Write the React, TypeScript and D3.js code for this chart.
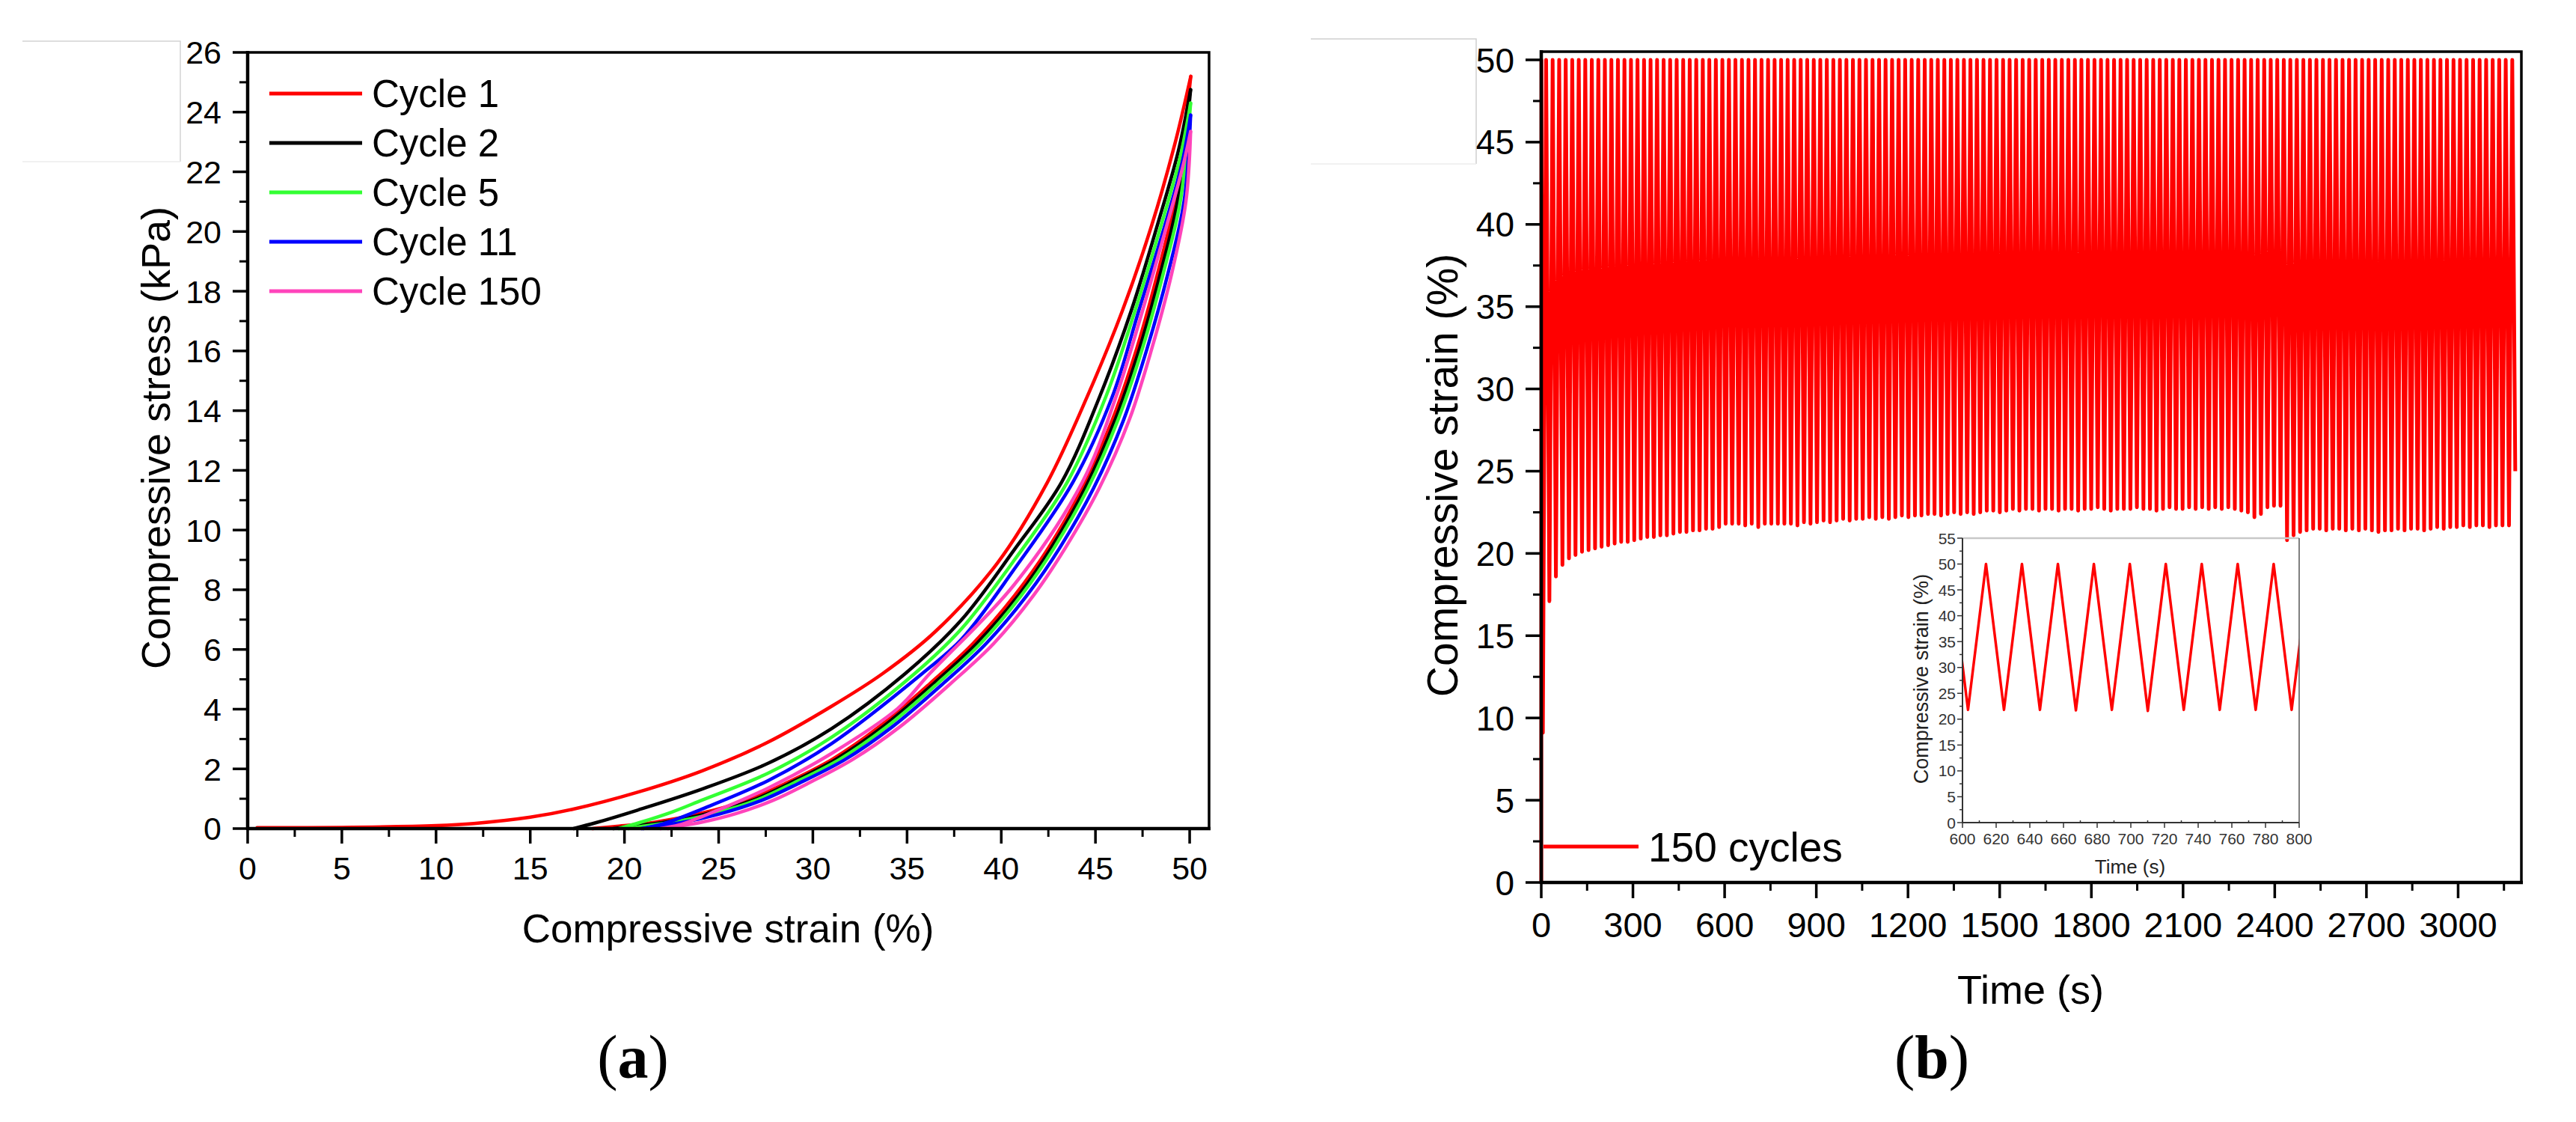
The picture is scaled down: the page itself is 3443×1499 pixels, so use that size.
import React from 'react';
import * as d3 from 'd3';

// ---- panel (a): stress-strain loops ----
type Pt = [number, number]; // [strain %, stress kPa] or [time s, strain %]

const CYCLE_LABELS = ['Cycle 1', 'Cycle 2', 'Cycle 5', 'Cycle 11', 'Cycle 150'];
const CYCLE_COLORS = ['#ff0000', '#000000', '#33ff33', '#0000ff', '#ff44bb'];

// loading branches
const LOAD_C1: Pt[] = [[0.5, 0.03], [5, 0.04], [10, 0.1], [12, 0.17], [15, 0.38], [17.2, 0.64], [20.7, 1.22], [24.1, 1.93], [27.6, 2.89], [31, 4.1], [33.7, 5.19], [36.5, 6.6], [39.8, 8.9], [42.45, 11.6], [44.57, 14.48], [46.43, 17.35], [48.0, 20.24], [49.2, 22.9], [50.06, 25.2]];
const LOAD_C2: Pt[] = [[17.3, 0], [18.5, 0.2], [20.7, 0.62], [24.1, 1.32], [27.6, 2.18], [31, 3.35], [34.9, 5.19], [37.9, 7.0], [40.7, 9.35], [43.2, 11.6], [45.23, 14.48], [46.9, 17.35], [48.3, 20.24], [49.4, 22.7], [50.05, 24.75]];
const LOAD_C5: Pt[] = [[19.7, 0], [20.8, 0.2], [22.5, 0.55], [24.1, 0.95], [27.6, 1.85], [31, 3.06], [35.4, 5.19], [37.9, 6.7], [40.7, 9.0], [43.5, 11.6], [45.56, 14.48], [47.1, 17.35], [48.5, 20.24], [49.5, 22.5], [50.05, 24.3]];
const LOAD_C11: Pt[] = [[20.9, 0], [22, 0.15], [24.1, 0.65], [27.6, 1.6], [31, 2.85], [35.8, 5.19], [37.9, 6.35], [40.7, 8.7], [43.8, 11.6], [45.9, 14.48], [47.3, 17.35], [48.7, 20.24], [49.6, 22.3], [50.05, 23.9]];
const LOAD_C150: Pt[] = [[21.9, 0], [22.9, 0.12], [24.1, 0.4], [27.6, 1.35], [31, 2.52], [34.5, 4.02], [36.2, 5.19], [40.7, 8.18], [44.3, 11.6], [46.1, 14.48], [47.5, 17.35], [48.8, 20.24], [49.65, 22.2], [50.05, 23.35]];

// unloading branches: strain at each stress level, from zero stress up towards the peak
const UNLOAD_STRESS = [0, 0.07, 0.2, 0.5, 0.95, 1.5, 2.31, 3.4, 4.85, 6.2, 7.8, 9.4, 11.4, 13.7, 16.1, 18.6, 21.0];
const UNLOAD_C1 = [18.3, 19.5, 21.5, 24.0, 26.5, 28.5, 31.0, 33.5, 36.2, 38.5, 40.7, 42.5, 44.3, 45.9, 47.2, 48.3, 49.2];
const UNLOAD_C2 = [19.4, 20.2, 22.0, 24.4, 26.8, 28.7, 31.2, 33.7, 36.4, 38.7, 40.9, 42.65, 44.45, 46.05, 47.35, 48.45, 49.35];
const UNLOAD_C5 = [20.2, 20.9, 22.4, 24.7, 27.0, 28.9, 31.4, 33.9, 36.6, 38.9, 41.05, 42.8, 44.6, 46.2, 47.5, 48.6, 49.5];
const UNLOAD_C11 = [21.0, 21.6, 23.0, 25.1, 27.3, 29.2, 31.7, 34.2, 36.9, 39.2, 41.35, 43.1, 44.9, 46.5, 47.75, 48.85, 49.7];
const UNLOAD_C150 = [22.3, 22.8, 24.0, 25.9, 27.9, 29.7, 32.1, 34.6, 37.3, 39.6, 41.7, 43.4, 45.2, 46.8, 48.0, 49.05, 49.8];

const LOADS = [LOAD_C1, LOAD_C2, LOAD_C5, LOAD_C11, LOAD_C150];
const UNLOADS = [UNLOAD_C1, UNLOAD_C2, UNLOAD_C5, UNLOAD_C11, UNLOAD_C150];

const STRAIN_TICKS = [0, 5, 10, 15, 20, 25, 30, 35, 40, 45, 50];
const STRESS_TICKS = [0, 2, 4, 6, 8, 10, 12, 14, 16, 18, 20, 22, 24, 26];

// ---- panel (b): strain vs time over 150 cycles ----
const CYCLE_PERIOD = 21.36; // s
const VALLEY_T0 = 5.2; // s, first unloading minimum
const PEAK_STRAIN = 50;
const END_TIME = 3187;
const END_STRAIN = 25;
// strain at the bottom of each unloading, read along the lower edge of the band
const VALLEYS = [
  9.1, 17.1, 18.6, 19.3, 19.7, 19.9, 20.1, 20.2, 20.3, 20.4,
  20.5, 20.6, 20.7, 20.7, 20.8, 20.9, 21.0, 21.0, 21.1, 21.1,
  21.2, 21.3, 21.3, 21.4, 21.4, 21.5, 21.5, 21.6, 21.8, 21.8,
  21.8, 21.7, 21.8, 21.6, 21.8, 21.8, 21.8, 21.8, 21.8, 21.7,
  21.9, 21.8, 21.9, 22.0, 21.9, 22.0, 22.1, 22.0, 22.1, 22.1,
  22.2, 22.1, 22.2, 22.1, 22.2, 22.3, 22.2, 22.3, 22.3, 22.4,
  22.4, 22.3, 22.4, 22.5, 22.4, 22.5, 22.4, 22.5, 22.6, 22.6,
  22.5, 22.6, 22.7, 22.6, 22.7, 22.7, 22.6, 22.7, 22.7, 22.6,
  22.7, 22.7, 22.6, 22.7, 22.7, 22.8, 22.7, 22.6, 22.7, 22.7,
  22.7, 22.8, 22.7, 22.7, 22.6, 22.7, 22.8, 22.7, 22.7, 22.8,
  22.7, 22.8, 22.7, 22.8, 22.7, 22.8, 22.7, 22.6, 22.5, 22.2,
  22.4, 22.8, 22.9, 22.9, 20.8, 21.1, 21.3, 21.4, 21.5, 21.5,
  21.4, 21.5, 21.5, 21.4, 21.5, 21.4, 21.5, 21.4, 21.3, 21.4,
  21.4, 21.5, 21.4, 21.5, 21.5, 21.4, 21.5, 21.6, 21.5, 21.6,
  21.6, 21.7, 21.6, 21.7, 21.7, 21.6, 21.7, 21.7, 21.7,
];

const TIME_TICKS = [0, 300, 600, 900, 1200, 1500, 1800, 2100, 2400, 2700, 3000];
const STRAIN_B_TICKS = [0, 5, 10, 15, 20, 25, 30, 35, 40, 45, 50];
const INSET_TIME_TICKS = [600, 620, 640, 660, 680, 700, 720, 740, 760, 780, 800];
const INSET_STRAIN_TICKS = [0, 5, 10, 15, 20, 25, 30, 35, 40, 45, 50, 55];

const SANS = '"Liberation Sans", Arial, sans-serif';
const SERIF = '"Liberation Serif", "Times New Roman", serif';

// half-way points between major ticks, for the minor ticks
const mids = (t: number[]) => t.slice(1).map((v, i) => (t[i] + v) / 2);

export default function App() {
  // scales
  const ax = d3.scaleLinear().domain([0, 51.03]).range([331, 1616]);
  const ay = d3.scaleLinear().domain([0, 26]).range([1107, 70]);
  const bx = d3.scaleLinear().domain([0, 3207]).range([2060, 3370]);
  const by = d3.scaleLinear().domain([0, 50.5]).range([1179, 69]);
  const ix = d3.scaleLinear().domain([600, 800]).range([2623, 3073]);
  const iy = d3.scaleLinear().domain([0, 55]).range([1099, 719]);

  const loopLine = d3.line<Pt>()
    .x(d => ax(d[0]))
    .y(d => ay(d[1]))
    .curve(d3.curveCatmullRom.alpha(0.5));

  const unloadBranch = (strains: number[], peak: Pt): Pt[] =>
    [...strains.map((s, i) => [s, UNLOAD_STRESS[i]] as Pt), peak];

  // time series of panel (b)
  const series: Pt[] = [[0, 0], [0.5, PEAK_STRAIN]];
  VALLEYS.forEach((v, k) => {
    const tv = VALLEY_T0 + k * CYCLE_PERIOD;
    series.push([tv, v]);
    series.push([tv + CYCLE_PERIOD / 2, PEAK_STRAIN]);
  });
  series.push([END_TIME, END_STRAIN]);

  const mainLine = d3.line<Pt>().x(d => bx(d[0])).y(d => by(d[1]));
  const insetLine = d3.line<Pt>().x(d => ix(d[0])).y(d => iy(d[1]));

  const [aL, aR] = ax.range();
  const [aB, aT] = ay.range();
  const [bL, bR] = bx.range();
  const [bB, bT] = by.range();
  const [iL, iR] = ix.range();
  const [iB, iT] = iy.range();

  return (
    <svg width={3443} height={1499} style={{ position: 'absolute', left: 0, top: 0, background: '#fff' }}>
      <rect x={0} y={0} width={3443} height={1499} fill="#fff" />

      {/* faint boxes left over in the corners */}
      <g fill="none" strokeWidth={1.5}>
        <path d="M30,55H241V216" stroke="#d4d4d4" />
        <path d="M30,216H241" stroke="#ececec" />
        <path d="M1752,52H1973V219" stroke="#d0d0d0" />
        <path d="M1752,219H1973" stroke="#ececec" />
      </g>

      {/* ================= panel (a) ================= */}
      <g>
        {LOADS.map((load, i) => (
          <g key={i} fill="none" stroke={CYCLE_COLORS[i]} strokeWidth={4.5} strokeLinejoin="round" strokeLinecap="round">
            <path d={loopLine(load) || ''} />
            <path d={loopLine(unloadBranch(UNLOADS[i], load[load.length - 1])) || ''} />
          </g>
        ))}

        {/* frame */}
        <path d={`M${aL},${aT}H${aR}V${aB}`} fill="none" stroke="#000" strokeWidth={3.5} />
        <line x1={aL} x2={aR + 2} y1={aB} y2={aB} stroke="#000" strokeWidth={4.5} />
        <line x1={aL} x2={aL} y1={aT - 2} y2={aB + 2} stroke="#000" strokeWidth={4.5} />

        {/* x axis */}
        {STRAIN_TICKS.map(t => (
          <g key={t}>
            <line x1={ax(t)} x2={ax(t)} y1={aB} y2={aB + 20} stroke="#000" strokeWidth={3.5} />
            <text x={ax(t)} y={1175} textAnchor="middle" fontFamily={SANS} fontSize={43}>{t}</text>
          </g>
        ))}
        {mids(STRAIN_TICKS).map(t => (
          <line key={t} x1={ax(t)} x2={ax(t)} y1={aB} y2={aB + 11} stroke="#000" strokeWidth={3} />
        ))}
        <text x={973} y={1259} textAnchor="middle" fontFamily={SANS} fontSize={53}>Compressive strain (%)</text>

        {/* y axis */}
        {STRESS_TICKS.map(t => (
          <g key={t}>
            <line x1={aL - 20} x2={aL} y1={ay(t)} y2={ay(t)} stroke="#000" strokeWidth={3.5} />
            <text x={296} y={ay(t)} dy="0.36em" textAnchor="end" fontFamily={SANS} fontSize={43}>{t}</text>
          </g>
        ))}
        {mids(STRESS_TICKS).map(t => (
          <line key={t} x1={aL - 11} x2={aL} y1={ay(t)} y2={ay(t)} stroke="#000" strokeWidth={3} />
        ))}
        <text transform="translate(227,585) rotate(-90)" textAnchor="middle" fontFamily={SANS} fontSize={54}>Compressive stress (kPa)</text>

        {/* legend */}
        {CYCLE_LABELS.map((lab, i) => (
          <g key={lab} transform={`translate(0,${125 + i * 66})`}>
            <line x1={360} x2={484} y1={0} y2={0} stroke={CYCLE_COLORS[i]} strokeWidth={5} />
            <text x={497} y={0} dy="0.36em" fontFamily={SANS} fontSize={51}>{lab}</text>
          </g>
        ))}

        <text x={846} y={1440} textAnchor="middle" fontFamily={SERIF} fontSize={82}>
          (<tspan fontWeight="bold">a</tspan>)
        </text>
      </g>

      {/* ================= panel (b) ================= */}
      <g>
        <path d={mainLine(series) || ''} fill="none" stroke="#ff0000" strokeWidth={5} strokeLinejoin="round" />

        {/* frame */}
        <path d={`M${bL},${bT}H${bR}V${bB}`} fill="none" stroke="#000" strokeWidth={3.5} />
        <line x1={bL} x2={bR + 2} y1={bB} y2={bB} stroke="#000" strokeWidth={4.5} />
        <line x1={bL} x2={bL} y1={bT - 2} y2={bB + 2} stroke="#000" strokeWidth={4.5} />

        {TIME_TICKS.map(t => (
          <g key={t}>
            <line x1={bx(t)} x2={bx(t)} y1={bB} y2={bB + 21} stroke="#000" strokeWidth={3.5} />
            <text x={bx(t)} y={1252} textAnchor="middle" fontFamily={SANS} fontSize={47}>{t}</text>
          </g>
        ))}
        {[...mids(TIME_TICKS), 3150].map(t => (
          <line key={t} x1={bx(t)} x2={bx(t)} y1={bB} y2={bB + 11} stroke="#000" strokeWidth={3} />
        ))}
        <text x={2714} y={1341} textAnchor="middle" fontFamily={SANS} fontSize={54}>Time (s)</text>

        {STRAIN_B_TICKS.map(t => (
          <g key={t}>
            <line x1={bL - 21} x2={bL} y1={by(t)} y2={by(t)} stroke="#000" strokeWidth={3.5} />
            <text x={2024} y={by(t)} dy="0.36em" textAnchor="end" fontFamily={SANS} fontSize={46}>{t}</text>
          </g>
        ))}
        {mids(STRAIN_B_TICKS).map(t => (
          <line key={t} x1={bL - 11} x2={bL} y1={by(t)} y2={by(t)} stroke="#000" strokeWidth={3} />
        ))}
        <text transform="translate(1948,635) rotate(-90)" textAnchor="middle" fontFamily={SANS} fontSize={57}>Compressive strain (%)</text>

        {/* legend */}
        <line x1={2063} x2={2190} y1={1131} y2={1131} stroke="#ff0000" strokeWidth={5} />
        <text x={2203} y={1131} dy="0.36em" fontFamily={SANS} fontSize={55}>150 cycles</text>

        {/* inset: 600-800 s */}
        <defs>
          <clipPath id="inset-clip">
            <rect x={iL} y={iT - 10} width={iR - iL} height={iB - iT + 10} />
          </clipPath>
        </defs>
        <path d={insetLine(series.filter(d => d[0] > 570 && d[0] < 830)) || ''} clipPath="url(#inset-clip)"
          fill="none" stroke="#ff0000" strokeWidth={3.5} strokeLinejoin="round" />
        <line x1={iL} x2={iR} y1={iT} y2={iT} stroke="#c8c8c8" strokeWidth={2.5} />
        <line x1={iR} x2={iR} y1={iT} y2={iB} stroke="#555" strokeWidth={1.5} />
        <line x1={iL} x2={iR} y1={iB} y2={iB} stroke="#333" strokeWidth={2} />
        <line x1={iL} x2={iL} y1={iT} y2={iB} stroke="#333" strokeWidth={2} />
        {INSET_TIME_TICKS.map(t => (
          <g key={t}>
            <line x1={ix(t)} x2={ix(t)} y1={iB} y2={iB + 7} stroke="#333" strokeWidth={1.5} />
            <text x={ix(t)} y={1128} textAnchor="middle" fontFamily={SANS} fontSize={21} fill="#333">{t}</text>
          </g>
        ))}
        {mids(INSET_TIME_TICKS).map(t => (
          <line key={t} x1={ix(t)} x2={ix(t)} y1={iB} y2={iB - 3} stroke="#333" strokeWidth={1.5} />
        ))}
        {INSET_STRAIN_TICKS.map(t => (
          <g key={t}>
            <line x1={iL - 7} x2={iL} y1={iy(t)} y2={iy(t)} stroke="#333" strokeWidth={1.5} />
            <text x={2614} y={iy(t)} dy="0.36em" textAnchor="end" fontFamily={SANS} fontSize={21} fill="#333">{t}</text>
          </g>
        ))}
        {mids(INSET_STRAIN_TICKS).map(t => (
          <line key={t} x1={iL - 4} x2={iL} y1={iy(t)} y2={iy(t)} stroke="#333" strokeWidth={1.5} />
        ))}
        <text x={2847} y={1167} textAnchor="middle" fontFamily={SANS} fontSize={26} fill="#222">Time (s)</text>
        <text transform="translate(2577,907) rotate(-90)" textAnchor="middle" fontFamily={SANS} fontSize={27} fill="#222">Compressive strain (%)</text>

        <text x={2582} y={1440} textAnchor="middle" fontFamily={SERIF} fontSize={82}>
          (<tspan fontWeight="bold">b</tspan>)
        </text>
      </g>
    </svg>
  );
}
